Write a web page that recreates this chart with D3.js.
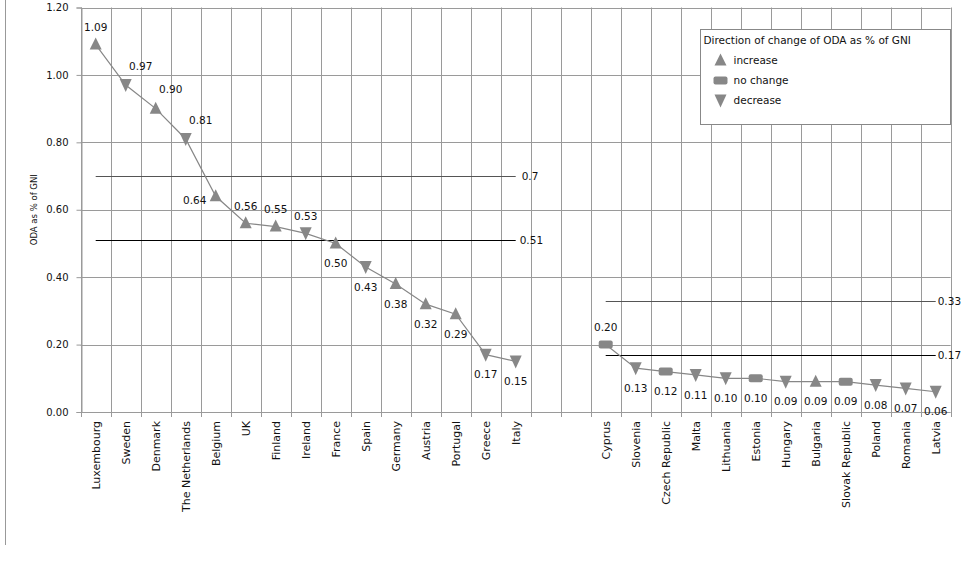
<!DOCTYPE html>
<html><head><meta charset="utf-8">
<script src="https://cdn.jsdelivr.net/npm/d3@7/dist/d3.min.js"></script>
<style>
html,body{margin:0;padding:0;background:#fff;}
svg{display:block;}
text{font-family:"DejaVu Sans","Liberation Sans",sans-serif;fill:#111;}
</style></head>
<body>
<svg id="chart" width="962" height="562"></svg>
<script>
// ---- data ----
const groupA = ["Luxembourg","Sweden","Denmark","The Netherlands","Belgium","UK","Finland","Ireland","France","Spain","Germany","Austria","Portugal","Greece","Italy"];
const valuesA = [1.09,0.97,0.90,0.81,0.64,0.56,0.55,0.53,0.50,0.43,0.38,0.32,0.29,0.17,0.15];
const changeA = ["increase","decrease","increase","decrease","increase","increase","increase","decrease","increase","decrease","increase","increase","increase","decrease","decrease"];
const labelPosA = ["above","aboveRight","aboveRight","aboveRight","left","above","above","above","below","below","below","below","below","below","below"];

const groupB = ["Cyprus","Slovenia","Czech Republic","Malta","Lithuania","Estonia","Hungary","Bulgaria","Slovak Republic","Poland","Romania","Latvia"];
const valuesB = [0.20,0.13,0.12,0.11,0.10,0.10,0.09,0.09,0.09,0.08,0.07,0.06];
const changeB = ["no change","decrease","no change","decrease","decrease","no change","decrease","increase","no change","decrease","decrease","decrease"];
const labelPosB = ["above","below","below","below","below","below","below","below","below","below","below","below"];

const gapSlots = ["_gap1","_gap2"];
const targetsA = [0.7, 0.51];
const targetsB = [0.33, 0.17];
const targetLabels = {0.7:"0.7",0.51:"0.51",0.33:"0.33",0.17:"0.17"};
const yTicks = [0,0.2,0.4,0.6,0.8,1.0,1.2];
const legendTitle = "Direction of change of ODA as % of GNI";
const legendItems = ["increase","no change","decrease"];
const yTitle = "ODA as % of GNI";

// ---- layout ----
const svg = d3.select("#chart");
const x0 = 80.7, x1 = 950.7, yTop = 7.5, yBot = 412;
const domain = groupA.concat(gapSlots, groupB);
const x = d3.scaleBand().domain(domain).range([x0, x1]).padding(0);
const y = d3.scaleLinear().domain([0, 1.2]).range([yBot, yTop]);
const gridCol = "#9a9a9a", markCol = "#878787";

// outer frame (left)
svg.append("line").attr("x1",5.5).attr("x2",5.5).attr("y1",0).attr("y2",545)
  .attr("stroke","#999").attr("stroke-width",1);

// horizontal grid
svg.append("g").selectAll("line").data(yTicks).join("line")
  .attr("x1",x0).attr("x2",x1).attr("y1",d=>Math.round(y(d))+0.5).attr("y2",d=>Math.round(y(d))+0.5)
  .attr("stroke",gridCol).attr("stroke-width",1);

// vertical grid at band boundaries
const bounds = domain.map(d=>x(d)).concat([x1]);
svg.append("g").selectAll("line").data(bounds).join("line")
  .attr("x1",d=>Math.round(d)+0.5).attr("x2",d=>Math.round(d)+0.5)
  .attr("y1",yTop).attr("y2",yBot+5)
  .attr("stroke",gridCol).attr("stroke-width",1);

// y axis
const yAxis = d3.axisLeft(y).tickValues(yTicks).tickFormat(d3.format(".2f")).tickSize(5).tickPadding(8);
const gy = svg.append("g").attr("transform",`translate(${Math.round(x0)+0.5},0)`).call(yAxis);
gy.select(".domain").attr("stroke",gridCol);
gy.selectAll(".tick line").attr("stroke",gridCol);
gy.selectAll(".tick text").attr("font-size",10).attr("font-family","DejaVu Sans, sans-serif").attr("fill","#111");

// x axis labels
const xAxis = d3.axisBottom(x).tickSize(0).tickPadding(0).tickFormat(d=>d.startsWith("_")?"":d);
const gx = svg.append("g").attr("transform",`translate(0,${yBot})`).call(xAxis);
gx.select(".domain").remove();
gx.selectAll(".tick text")
  .attr("font-size",11).attr("font-family","DejaVu Sans, sans-serif").attr("fill","#111")
  .attr("transform","rotate(-90)").attr("text-anchor","end")
  .attr("x",-9).attr("y",0).attr("dy","0.35em");

// y title
svg.append("text").attr("transform",`translate(37,${(yTop+yBot)/2}) rotate(-90)`)
  .attr("text-anchor","middle").attr("font-size",8.5).text(yTitle);

// target lines
function targetLine(val, names, col, off){
  const xa = x(names[0]) + x.bandwidth()/2, xb = x(names[names.length-1]) + x.bandwidth()/2;
  const yy = Math.round(y(val))+0.5;
  svg.append("line").attr("x1",xa).attr("x2",xb).attr("y1",yy).attr("y2",yy)
    .attr("stroke",col).attr("stroke-width",1.2);
  svg.append("text").attr("x",xb+off).attr("y",yy).attr("dy","0.35em")
    .attr("font-size",10.5).text(targetLabels[val]);
}
targetLine(targetsA[0], groupA, "#555", 6);
targetLine(targetsA[1], groupA, "#000", 4);
targetLine(targetsB[0], groupB, "#555", 2);
targetLine(targetsB[1], groupB, "#000", 2);

// series lines
const cx = d => x(d) + x.bandwidth()/2;
const line = d3.line().x(d=>cx(d.name)).y(d=>y(d.value));
const dataA = groupA.map((n,i)=>({name:n,value:valuesA[i],change:changeA[i],pos:labelPosA[i]}));
const dataB = groupB.map((n,i)=>({name:n,value:valuesB[i],change:changeB[i],pos:labelPosB[i]}));
[dataA,dataB].forEach(ds=>{
  svg.append("path").datum(ds).attr("d",line).attr("fill","none").attr("stroke",markCol).attr("stroke-width",1.2);
});

// markers
function marker(g, type){
  if(type==="increase") g.append("path").attr("d","M0,-7 L6,5 L-6,5 Z").attr("fill",markCol);
  else if(type==="decrease") g.append("path").attr("d","M-6,-6 L6,-6 L0,7 Z").attr("fill",markCol);
  else g.append("rect").attr("x",-7).attr("y",-4).attr("width",14).attr("height",8).attr("rx",2).attr("fill",markCol);
}
const all = dataA.concat(dataB);
const mg = svg.append("g").selectAll("g").data(all).join("g")
  .attr("transform",d=>`translate(${cx(d.name)},${y(d.value)})`);
mg.each(function(d){ marker(d3.select(this), d.change); });

// value labels
const fmt = d3.format(".2f");
svg.append("g").selectAll("text").data(all).join("text")
  .attr("font-size",10.5)
  .attr("text-anchor","middle")
  .attr("x",d=>{const c=cx(d.name); return d.pos==="aboveRight"?c+15:d.pos==="left"?c-21:c;})
  .attr("y",d=>{const v=y(d.value); return d.pos==="below"?v+20:d.pos==="left"?v+4:d.pos==="aboveRight"?v-19:v-17;})
  .attr("dy","0.35em")
  .text(d=>fmt(d.value));

// legend
const lg = svg.append("g").attr("transform","translate(700.5,29.5)");
lg.append("rect").attr("width",250).attr("height",95).attr("fill","#fff").attr("stroke","#888");
lg.append("text").attr("x",3).attr("y",11).attr("dy","0.35em").attr("font-size",10.5).text(legendTitle);
legendItems.forEach((it,i)=>{
  const gi = lg.append("g").attr("transform",`translate(20,${31+i*20})`);
  marker(gi, it);
  lg.append("text").attr("x",33).attr("y",31+i*20).attr("dy","0.35em").attr("font-size",10.5).text(it);
});
</script>
</body></html>
